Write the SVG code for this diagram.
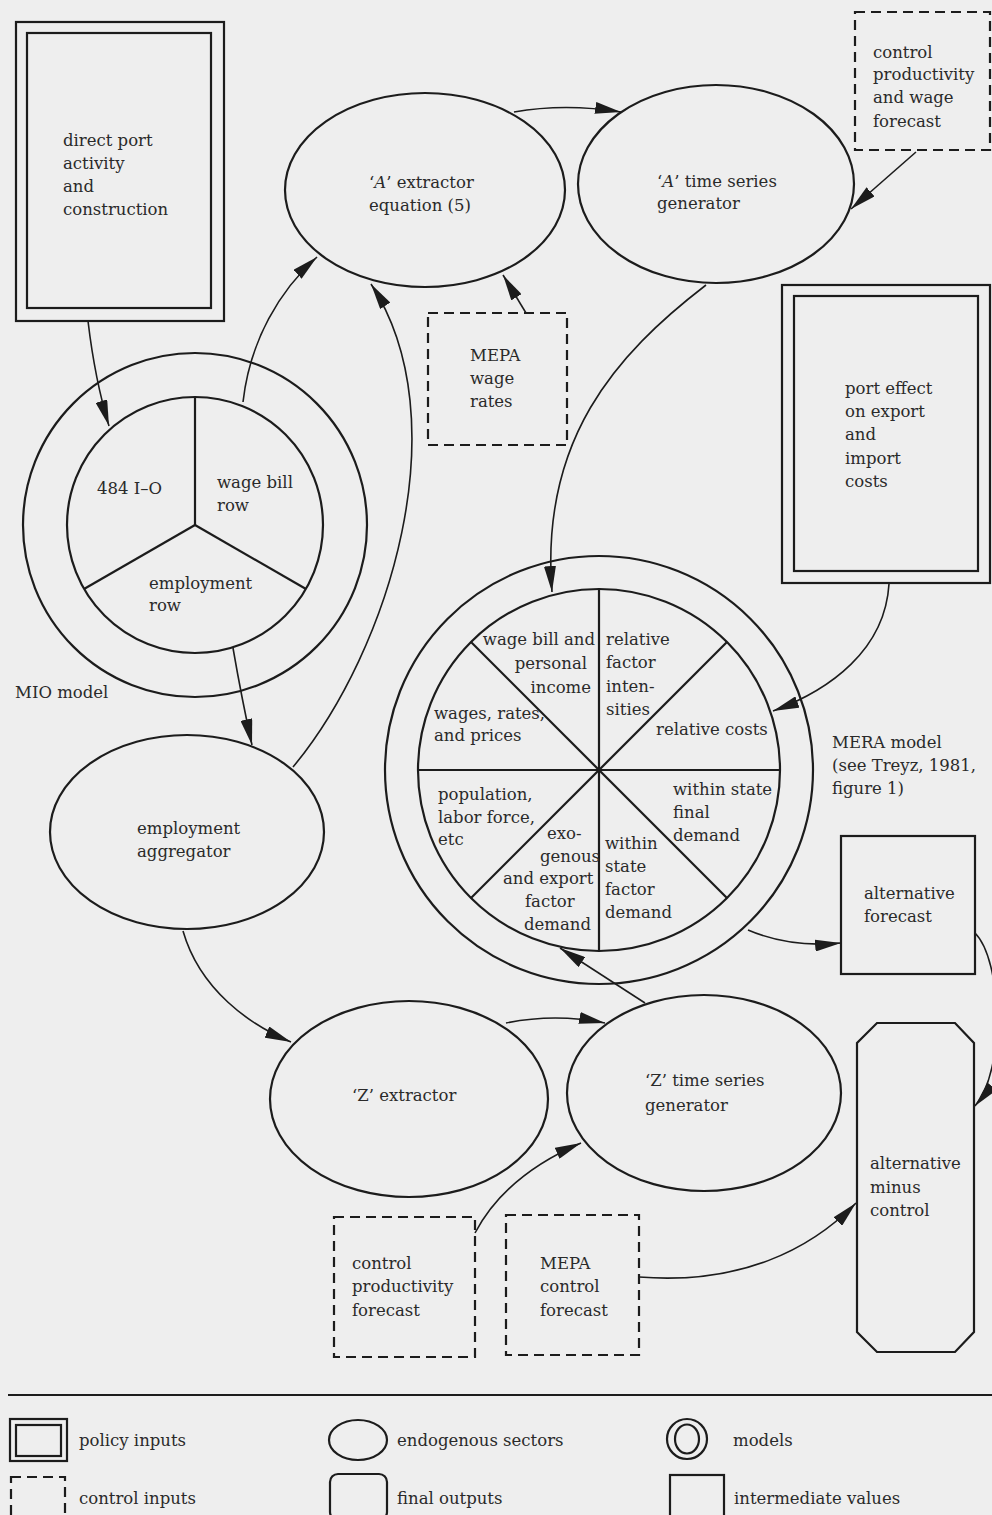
<svg xmlns="http://www.w3.org/2000/svg" width="992" height="1515" viewBox="0 0 992 1515">
<defs>
<style>
.s{fill:none;stroke:#1c1c1c;stroke-width:2.2}
.d{fill:none;stroke:#1c1c1c;stroke-width:2.2;stroke-dasharray:10 6}
.c{fill:none;stroke:#1c1c1c;stroke-width:1.6}
.t{font-family:"DejaVu Serif","Liberation Serif",serif;font-size:16.5px;fill:#2a2a2a}
</style>
<marker id="ah" viewBox="0 0 26 12" refX="26" refY="6" markerWidth="26" markerHeight="12" orient="auto" markerUnits="userSpaceOnUse">
<path d="M0,0 L26,6 L0,12 z" fill="#1c1c1c"/>
</marker>
</defs>
<rect x="0" y="0" width="992" height="1515" fill="#eeeeee"/>

<g id="direct-port">
<rect class="s" x="16" y="22" width="208" height="299"/>
<rect class="s" x="27" y="33" width="184" height="275"/>
<text class="t" x="63" y="146">direct port</text>
<text class="t" x="63" y="169">activity</text>
<text class="t" x="63" y="192">and</text>
<text class="t" x="63" y="215">construction</text>
</g>

<g id="a-extractor">
<ellipse class="s" cx="425" cy="190" rx="140" ry="97"/>
<text class="t" x="369" y="188">‘<tspan font-style="italic">A</tspan>’ extractor</text>
<text class="t" x="369" y="211">equation (5)</text>
</g>

<g id="a-time-series">
<ellipse class="s" cx="716" cy="184" rx="138" ry="99"/>
<text class="t" x="657" y="187">‘<tspan font-style="italic">A</tspan>’ time series</text>
<text class="t" x="657" y="209">generator</text>
</g>

<g id="control-productivity-wage">
<rect class="d" x="855" y="12" width="135" height="138"/>
<text class="t" x="873" y="58">control</text>
<text class="t" x="873" y="80">productivity</text>
<text class="t" x="873" y="103">and wage</text>
<text class="t" x="873" y="127">forecast</text>
</g>

<g id="mepa-wage-rates">
<rect class="d" x="428" y="313" width="139" height="132"/>
<text class="t" x="470" y="361">MEPA</text>
<text class="t" x="470" y="384">wage</text>
<text class="t" x="470" y="407">rates</text>
</g>

<g id="port-effect">
<rect class="s" x="782" y="285" width="208" height="298"/>
<rect class="s" x="794" y="296" width="184" height="275"/>
<text class="t" x="845" y="394">port effect</text>
<text class="t" x="845" y="417">on export</text>
<text class="t" x="845" y="440">and</text>
<text class="t" x="845" y="464">import</text>
<text class="t" x="845" y="487">costs</text>
</g>

<g id="mio-model">
<circle class="s" cx="195" cy="525" r="172"/>
<circle class="s" cx="195" cy="525" r="128"/>
<line class="s" x1="195" y1="525" x2="195" y2="397"/>
<line class="s" x1="195" y1="525" x2="84" y2="589"/>
<line class="s" x1="195" y1="525" x2="306" y2="589"/>
<text class="t" x="97" y="494">484 I–O</text>
<text class="t" x="217" y="488">wage bill</text>
<text class="t" x="217" y="511">row</text>
<text class="t" x="149" y="589">employment</text>
<text class="t" x="149" y="611">row</text>
<text class="t" x="15" y="698">MIO model</text>
</g>

<g id="employment-aggregator">
<ellipse class="s" cx="187" cy="832" rx="137" ry="97"/>
<text class="t" x="137" y="834">employment</text>
<text class="t" x="137" y="857">aggregator</text>
</g>

<g id="mera-model">
<circle class="s" cx="599" cy="770" r="214"/>
<circle class="s" cx="599" cy="770" r="181"/>
<line class="s" x1="599" y1="589" x2="599" y2="951"/>
<line class="s" x1="418" y1="770" x2="780" y2="770"/>
<line class="s" x1="471" y1="642" x2="727" y2="898"/>
<line class="s" x1="727" y1="642" x2="471" y2="898"/>
<text class="t" x="595" y="645" text-anchor="end">wage bill and</text>
<text class="t" x="587" y="669" text-anchor="end">personal</text>
<text class="t" x="591" y="693" text-anchor="end">income</text>
<text class="t" x="606" y="645">relative</text>
<text class="t" x="606" y="668">factor</text>
<text class="t" x="606" y="692">inten-</text>
<text class="t" x="606" y="715">sities</text>
<text class="t" x="434" y="719">wages, rates,</text>
<text class="t" x="434" y="741">and prices</text>
<text class="t" x="656" y="735">relative costs</text>
<text class="t" x="438" y="800">population,</text>
<text class="t" x="438" y="823">labor force,</text>
<text class="t" x="438" y="845">etc</text>
<text class="t" x="547" y="839">exo-</text>
<text class="t" x="540" y="862">genous</text>
<text class="t" x="503" y="884">and export</text>
<text class="t" x="525" y="907">factor</text>
<text class="t" x="524" y="930">demand</text>
<text class="t" x="673" y="795">within state</text>
<text class="t" x="673" y="818">final</text>
<text class="t" x="673" y="841">demand</text>
<text class="t" x="605" y="849">within</text>
<text class="t" x="605" y="872">state</text>
<text class="t" x="605" y="895">factor</text>
<text class="t" x="605" y="918">demand</text>
<text class="t" x="832" y="748">MERA model</text>
<text class="t" x="832" y="771">(see Treyz, 1981,</text>
<text class="t" x="832" y="794">figure 1)</text>
</g>

<g id="alternative-forecast">
<rect class="s" x="841" y="836" width="134" height="138"/>
<text class="t" x="864" y="899">alternative</text>
<text class="t" x="864" y="922">forecast</text>
</g>

<g id="z-extractor">
<ellipse class="s" cx="409" cy="1099" rx="139" ry="98"/>
<text class="t" x="352" y="1101">‘Z’ extractor</text>
</g>

<g id="z-time-series">
<ellipse class="s" cx="704" cy="1093" rx="137" ry="98"/>
<text class="t" x="645" y="1086">‘Z’ time series</text>
<text class="t" x="645" y="1111">generator</text>
</g>

<g id="alternative-minus-control">
<polygon class="s" points="877,1023 955,1023 974,1043 974,1332 955,1352 877,1352 857,1332 857,1043"/>
<text class="t" x="870" y="1169">alternative</text>
<text class="t" x="870" y="1193">minus</text>
<text class="t" x="870" y="1216">control</text>
</g>

<g id="control-productivity-forecast">
<rect class="d" x="334" y="1217" width="141" height="140"/>
<text class="t" x="352" y="1269">control</text>
<text class="t" x="352" y="1292">productivity</text>
<text class="t" x="352" y="1316">forecast</text>
</g>

<g id="mepa-control-forecast">
<rect class="d" x="506" y="1215" width="133" height="140"/>
<text class="t" x="540" y="1269">MEPA</text>
<text class="t" x="540" y="1292">control</text>
<text class="t" x="540" y="1316">forecast</text>
</g>

<g id="connectors">
<path class="c" d="M88,321 Q95,380 109,426" marker-end="url(#ah)"/>
<path class="c" d="M243,402 C250,340 280,290 317,257" marker-end="url(#ah)"/>
<path class="c" d="M293,767 C390,650 460,420 371,284" marker-end="url(#ah)"/>
<path class="c" d="M526,313 L503,275" marker-end="url(#ah)"/>
<path class="c" d="M514,112 Q565,103 621,112" marker-end="url(#ah)"/>
<path class="c" d="M916,152 L851,209" marker-end="url(#ah)"/>
<path class="c" d="M706,285 C615,355 540,440 552,592" marker-end="url(#ah)"/>
<path class="c" d="M889,584 C885,650 830,690 773,711" marker-end="url(#ah)"/>
<path class="c" d="M233,648 Q242,700 252,745" marker-end="url(#ah)"/>
<path class="c" d="M183,931 C200,990 250,1025 291,1042" marker-end="url(#ah)"/>
<path class="c" d="M506,1023 Q555,1013 605,1023" marker-end="url(#ah)"/>
<path class="c" d="M645,1003 L560,948" marker-end="url(#ah)"/>
<path class="c" d="M748,930 Q790,948 841,943" marker-end="url(#ah)"/>
<path class="c" d="M975,933 C1002,960 1006,1070 975,1106" marker-end="url(#ah)"/>
<path class="c" d="M475,1233 C495,1195 530,1165 581,1143" marker-end="url(#ah)"/>
<path class="c" d="M639,1277 C740,1285 810,1250 856,1203" marker-end="url(#ah)"/>
</g>

<g id="legend">
<line x1="8" y1="1395" x2="992" y2="1395" stroke="#1c1c1c" stroke-width="2.2"/>
<rect class="s" x="10" y="1419" width="57" height="42" stroke-width="1.6"/>
<rect class="s" x="16" y="1425" width="45" height="31" stroke-width="1.6"/>
<text class="t" x="79" y="1446">policy inputs</text>
<ellipse class="s" cx="358" cy="1440" rx="29" ry="20" stroke-width="1.6"/>
<text class="t" x="397" y="1446">endogenous sectors</text>
<ellipse class="s" cx="687" cy="1439" rx="20" ry="20" stroke-width="1.6"/>
<ellipse class="s" cx="687" cy="1439" rx="12" ry="14.5" stroke-width="1.6"/>
<text class="t" x="733" y="1446">models</text>
<rect class="d" x="11" y="1477" width="54" height="45" stroke-width="1.4" stroke-dasharray="5 4"/>
<text class="t" x="79" y="1504">control inputs</text>
<rect class="s" x="330" y="1474" width="57" height="46" rx="8" stroke-width="1.6"/>
<text class="t" x="397" y="1504">final outputs</text>
<rect class="s" x="670" y="1475" width="54" height="46" stroke-width="1.6"/>
<text class="t" x="734" y="1504">intermediate values</text>
</g>
</svg>
